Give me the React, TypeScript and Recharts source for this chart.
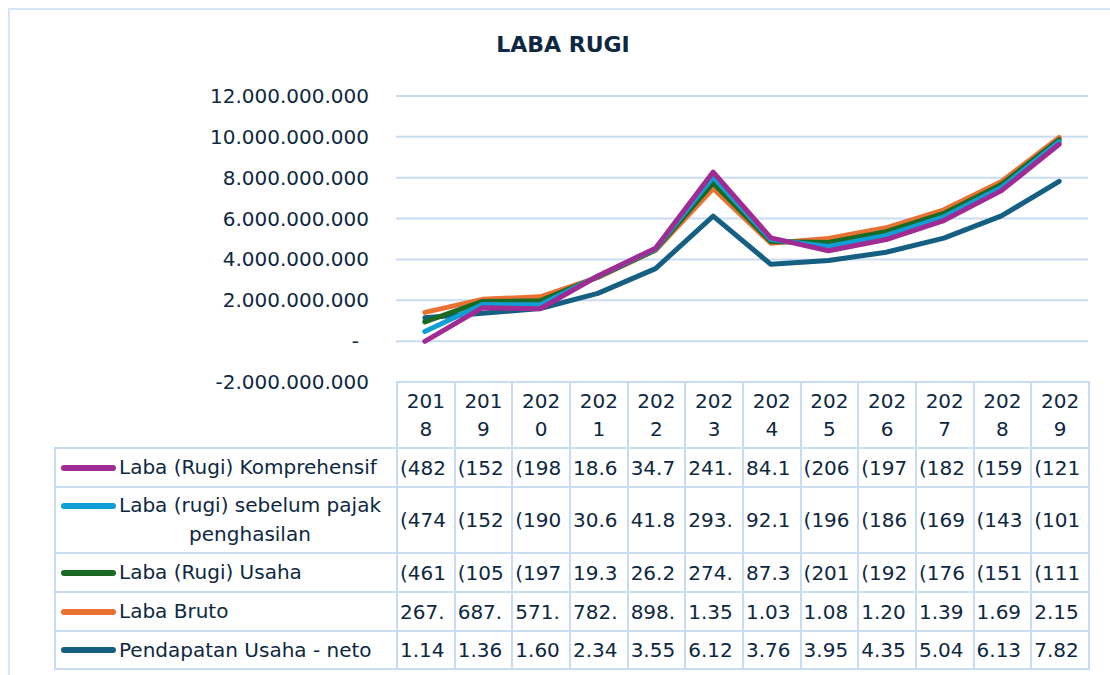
import React from "react";
import { Area, CartesianGrid, ComposedChart, XAxis, YAxis } from "recharts";

const years = ["2018", "2019", "2020", "2021", "2022", "2023", "2024", "2025", "2026", "2027", "2028", "2029"];

const pendapatanUsaha = [1140e6, 1360e6, 1600e6, 2340e6, 3550e6, 6120e6, 3760e6, 3950e6, 4350e6, 5040e6, 6130e6, 7820e6];
const labaBruto = [267e6, 687e6, 571e6, 782e6, 898e6, 1350e6, 1030e6, 1080e6, 1200e6, 1390e6, 1690e6, 2150e6];
const labaUsaha = [-461e6, -105e6, -197e6, 19.3e6, 26.2e6, 274e6, 87.3e6, -201e6, -192e6, -176e6, -151e6, -111e6];
const labaSebelumPajak = [-474e6, -152e6, -190e6, 30.6e6, 41.8e6, 293e6, 92.1e6, -196e6, -186e6, -169e6, -143e6, -101e6];
const labaKomprehensif = [-482e6, -152e6, -198e6, 18.6e6, 34.7e6, 241e6, 84.1e6, -206e6, -197e6, -182e6, -159e6, -121e6];

const yTicks = [-2e9, 0, 2e9, 4e9, 6e9, 8e9, 10e9, 12e9];

// stacking order (bottom first)
const series = [
  { key: "pendapatan", name: "Pendapatan Usaha - neto", color: "#156082", values: pendapatanUsaha },
  { key: "bruto", name: "Laba Bruto", color: "#E97132", values: labaBruto },
  { key: "usaha", name: "Laba (Rugi) Usaha", color: "#196B24", values: labaUsaha },
  { key: "pajak", name: "Laba (rugi) sebelum pajak\npenghasilan", color: "#0F9ED5", values: labaSebelumPajak },
  { key: "kompre", name: "Laba (Rugi) Komprehensif", color: "#A02B93", values: labaKomprehensif },
];

const data = years.map((year, i) => {
  const row: Record<string, string | number> = { year };
  series.forEach((s) => (row[s.key] = s.values[i]));
  return row;
});

const TEXT = "#0E2841";
const GRID = "#c9dcf2";
const FONT = '"DejaVu Sans", sans-serif';

const dots = (n: number) => Math.round(n).toString().replace(/\B(?=(\d{3})+(?!\d))/g, ".");
const axisFmt = (v: number) => (v === 0 ? "-" : v < 0 ? `-${dots(-v)}` : dots(v));
// excel clips the cell text to what fits in the column
const cellFmt = (v: number) => (v < 0 ? `(${dots(-v)})` : dots(v)).slice(0, 4);

const YTick = ({ x, y, payload }: any) => (
  <text
    x={payload.value === 0 ? x - 10 : x}
    y={y}
    dy={7}
    textAnchor="end"
    fill={TEXT}
    fontSize={20}
    fontFamily={FONT}
  >
    {axisFmt(payload.value)}
  </text>
);

const colW = 57.67;
const rowH = [39, 66, 39, 39, 38];
const border = `2px solid ${GRID}`;

export default function App() {
  const rows = [...series].reverse();
  return (
    <div
      style={{
        position: "relative",
        width: 1110,
        height: 675,
        overflow: "hidden",
        fontFamily: FONT,
        color: TEXT,
      }}
    >
      <style>{"body{margin:0}"}</style>
      <div
        style={{
          position: "absolute",
          left: 8,
          top: 8,
          width: 1102,
          height: 667,
          borderTop: "2px solid #d6e5f7",
          borderLeft: "2px solid #d6e5f7",
          boxSizing: "border-box",
        }}
      />
      <div
        style={{
          position: "absolute",
          left: 8,
          top: 32,
          width: 1110,
          textAlign: "center",
          fontSize: 22,
          lineHeight: "26px",
          fontWeight: "bold",
        }}
      >
        LABA RUGI
      </div>
      <div style={{ position: "absolute", left: 8, top: 8 }}>
        <ComposedChart width={1094} height={400} data={data} margin={{ top: 88, right: 14, bottom: 26, left: 0 }}>
          <CartesianGrid vertical={false} stroke={GRID} strokeWidth={2} />
          <XAxis dataKey="year" hide padding={{ left: colW / 2, right: colW / 2 }} />
          <YAxis
            width={388}
            domain={[-2e9, 12e9]}
            ticks={yTicks}
            axisLine={false}
            tickLine={false}
            tickSize={0}
            tickMargin={27}
            tick={<YTick />}
            interval={0}
          />
          {series.map((s) => (
            <Area
              key={s.key}
              dataKey={s.key}
              stackId="1"
              type="linear"
              stroke={s.color}
              strokeWidth={5}
              strokeLinecap="round"
              strokeLinejoin="round"
              fill="none"
              dot={false}
              activeDot={false}
              isAnimationActive={false}
            />
          ))}
        </ComposedChart>
      </div>
      <table
        style={{
          position: "absolute",
          left: 54,
          top: 381,
          borderCollapse: "collapse",
          tableLayout: "fixed",
          width: 342 + colW * 12,
          fontSize: 20,
        }}
      >
        <colgroup>
          <col style={{ width: 342 }} />
          {years.map((y) => (
            <col key={y} style={{ width: colW }} />
          ))}
        </colgroup>
        <tbody>
          <tr style={{ height: 66 }}>
            <td style={{ padding: 0 }} />
            {years.map((y) => (
              <td key={y} style={{ border, padding: 0, textAlign: "center", lineHeight: "28px" }}>
                {y.slice(0, 3)}
                <br />
                {y.slice(3)}
              </td>
            ))}
          </tr>
          {rows.map((s, r) => (
            <tr key={s.key} style={{ height: rowH[r] }}>
              <td style={{ border, padding: "0 0 0 5px" }}>
                <div style={{ display: "flex", alignItems: "flex-start" }}>
                  <span
                    style={{
                      display: "inline-block",
                      width: 55,
                      height: 6,
                      borderRadius: 3,
                      background: s.color,
                      marginTop: 11.5,
                      marginRight: 3,
                      flexShrink: 0,
                    }}
                  />
                  <span style={{ display: "inline-block", textAlign: "center", lineHeight: "29px", whiteSpace: "pre" }}>
                    {s.name}
                  </span>
                </div>
              </td>
              {s.values.map((v, i) => (
                <td key={i} style={{ border, padding: "0 0 0 2px", whiteSpace: "nowrap", overflow: "hidden" }}>
                  {cellFmt(v)}
                </td>
              ))}
            </tr>
          ))}
        </tbody>
      </table>
    </div>
  );
}
